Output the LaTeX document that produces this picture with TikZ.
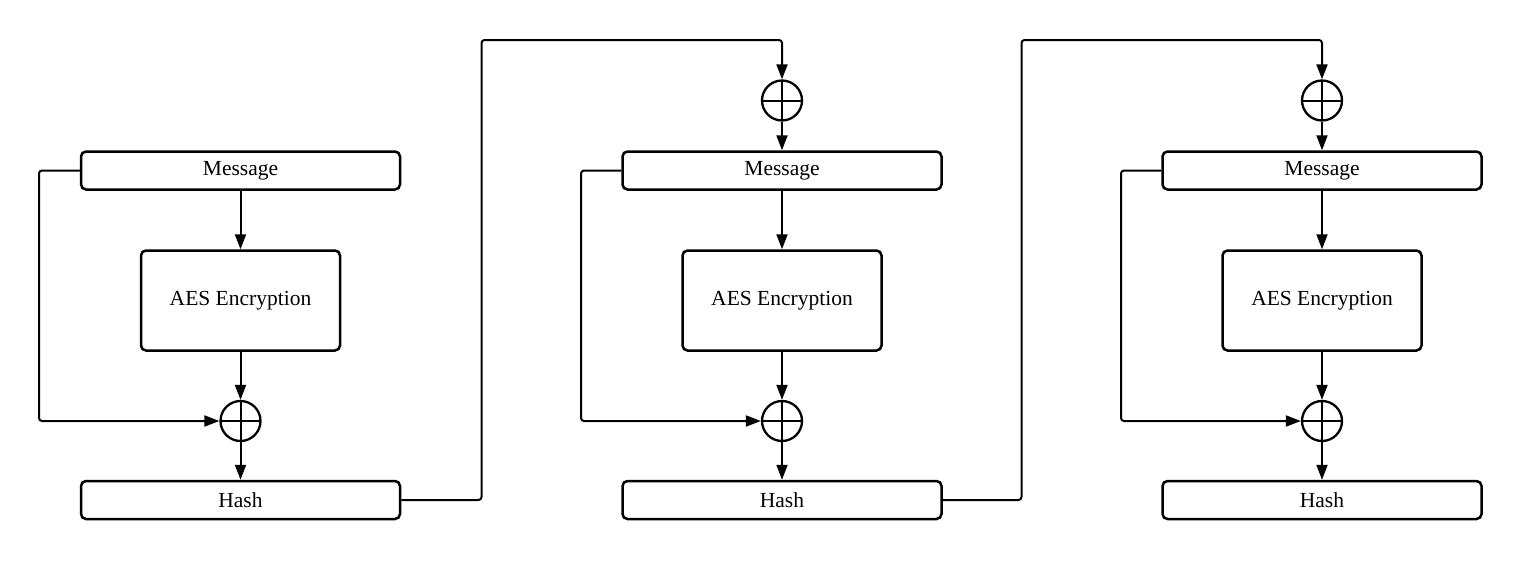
\documentclass[tikz,border=0pt]{standalone}
\usepackage{fontspec}
\setmainfont{Liberation Serif}
\usetikzlibrary{arrows.meta}
\begin{document}
\begin{tikzpicture}[x=1pt,y=-1pt,
  box/.style={draw,line width=2.5pt,rounded corners=5pt,inner sep=0pt,align=center,font=\fontsize{21.5}{25}\selectfont},
  wide/.style={box,minimum width=319pt,minimum height=38pt},
  aes/.style={box,minimum width=199pt,minimum height=100pt},
  xor/.style={draw,circle,line width=2.3pt,minimum size=40pt,inner sep=0pt,
    path picture={\draw[line width=2pt] (path picture bounding box.north) -- (path picture bounding box.south)
      (path picture bounding box.west) -- (path picture bounding box.east);}},
  conn/.style={line width=2pt,rounded corners=3pt,-{Triangle[length=15pt,width=11pt]}}]
\useasboundingbox (0,0) rectangle (1523,562);
% block 1
\node[wide] (m1) at (240.5,170.5) {Message};
\node[aes]  (a1) at (240.5,300.5) {AES Encryption};
\node[xor]  (x1) at (240.5,421) {};
\node[wide] (h1) at (240.5,500) {Hash};
% block 2
\node[xor]  (t2) at (782,100.5) {};
\node[wide] (m2) at (782,170.5) {Message};
\node[aes]  (a2) at (782,300.5) {AES Encryption};
\node[xor]  (x2) at (782,421) {};
\node[wide] (h2) at (782,500) {Hash};
% block 3
\node[xor]  (t3) at (1322,100.5) {};
\node[wide] (m3) at (1322,170.5) {Message};
\node[aes]  (a3) at (1322,300.5) {AES Encryption};
\node[xor]  (x3) at (1322,421) {};
\node[wide] (h3) at (1322,500) {Hash};
\coordinate (f1) at (39,421);
\coordinate (f2) at (581,421);
\coordinate (f3) at (1121,421);
\coordinate (c1) at (481.5,40);
\coordinate (c2) at (1021.5,40);
% connectors
\foreach \i in {1,2,3}{
  \draw[conn] (m\i.south) -- (a\i.north);
  \draw[conn] (a\i.south) -- (x\i.north);
  \draw[conn] (x\i.south) -- (h\i.north);
  \draw[conn] (m\i.west) -| (f\i) -- (x\i.west);
}
\draw[conn] (t2.south) -- (m2.north);
\draw[conn] (t3.south) -- (m3.north);
\draw[conn] (h1.east) -| (c1) -| (t2.north);
\draw[conn] (h2.east) -| (c2) -| (t3.north);
\end{tikzpicture}
\end{document}
